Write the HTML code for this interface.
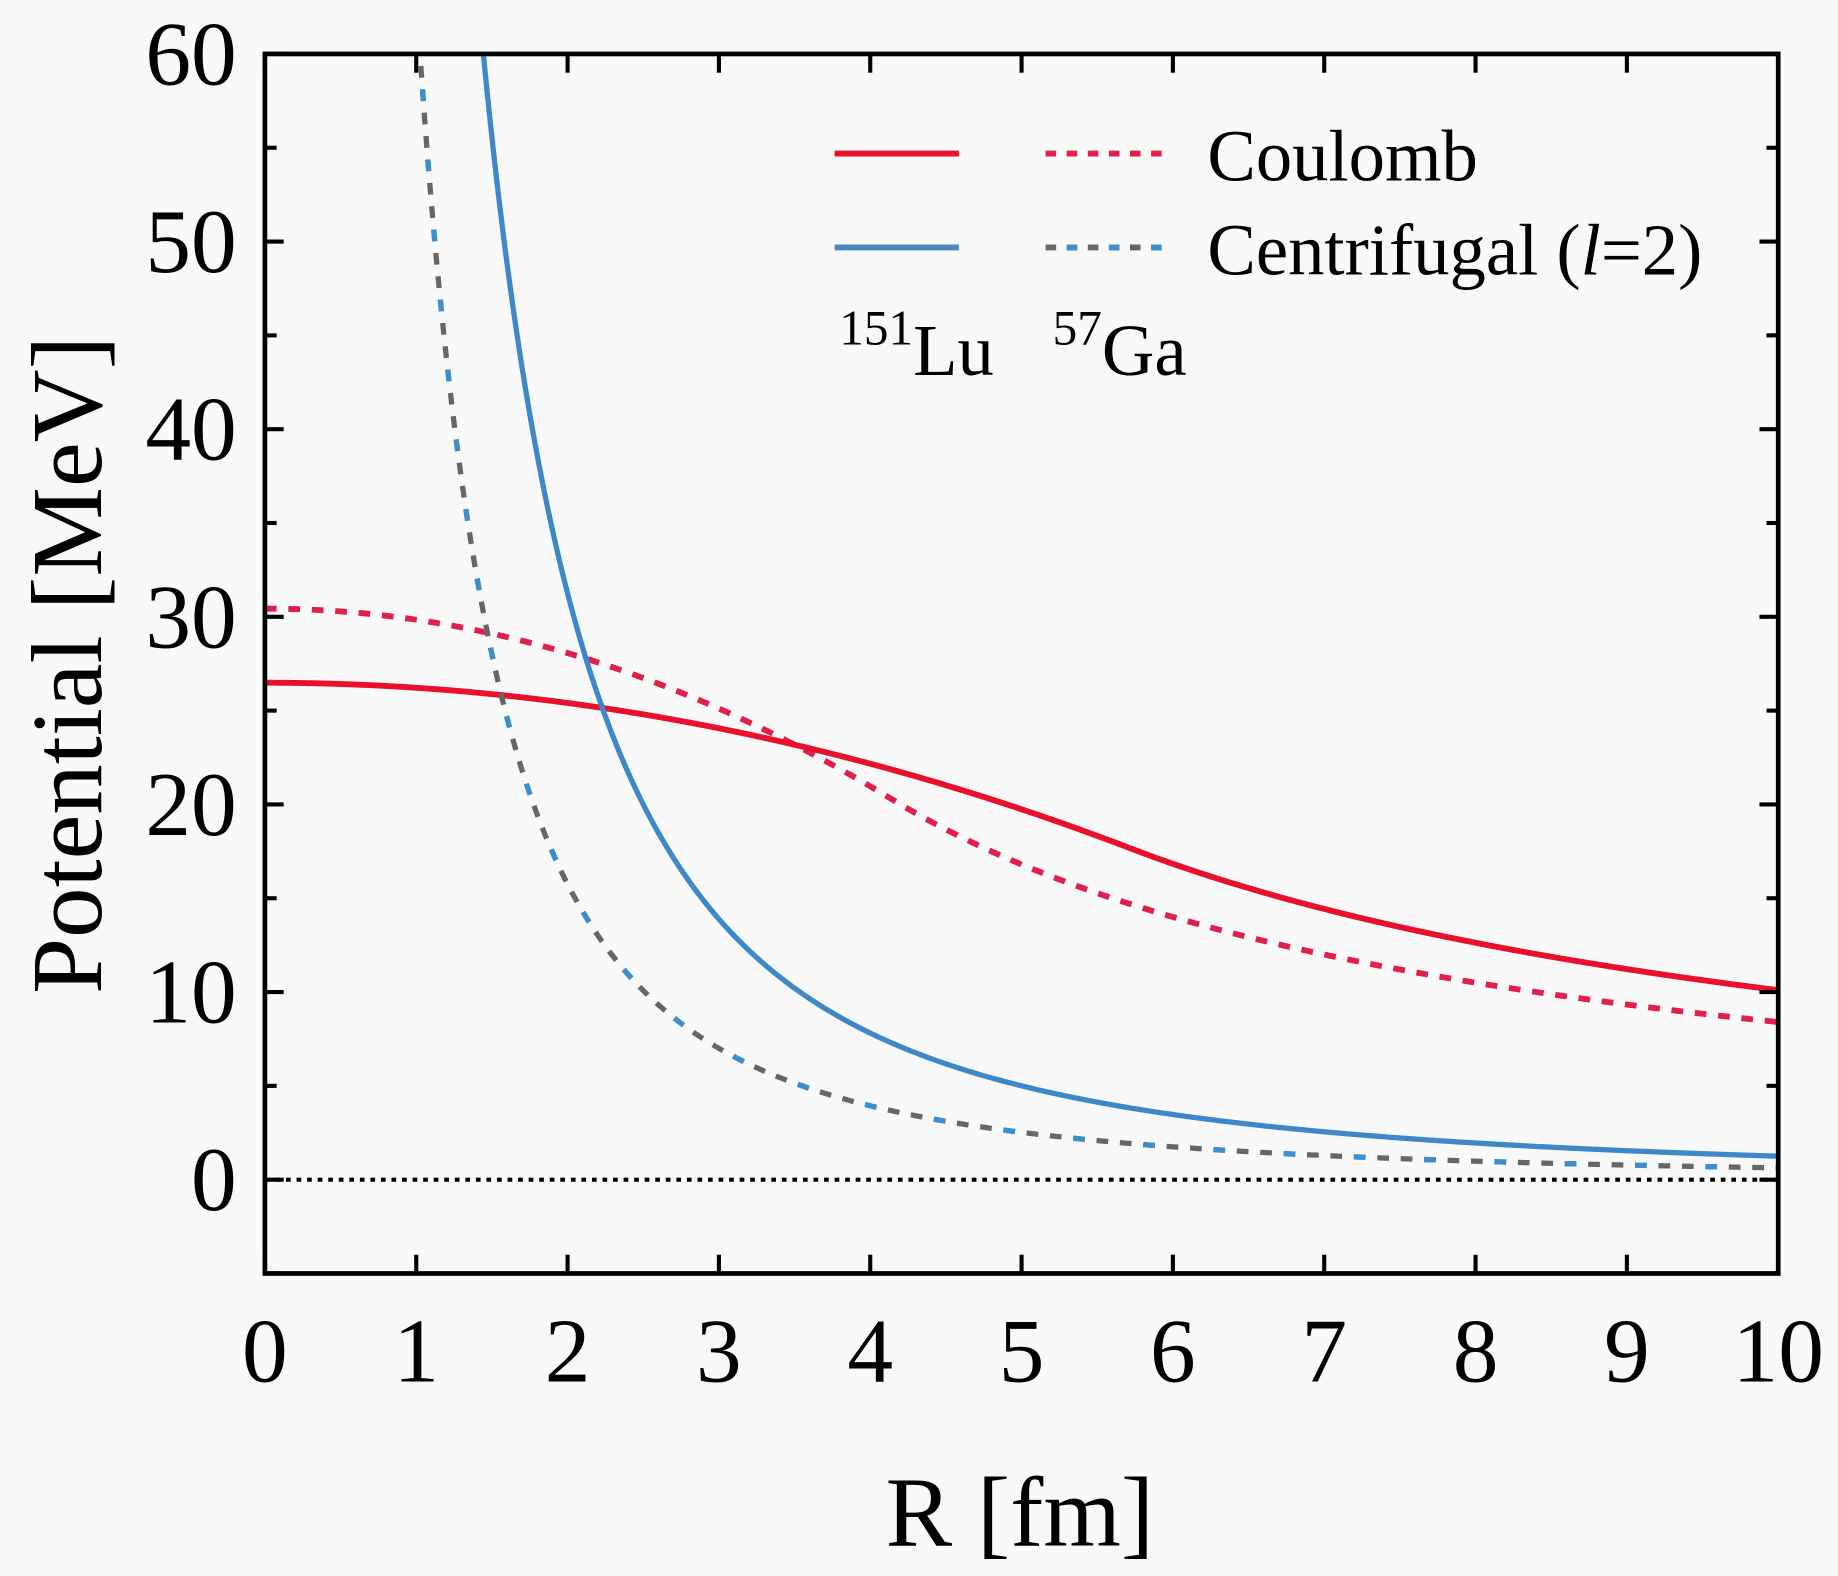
<!DOCTYPE html>
<html><head><meta charset="utf-8"><style>
html,body{margin:0;padding:0;background:#f9f9f9;}
svg{display:block;}
text{font-family:"Liberation Serif",serif;fill:#000;}
</style></head><body>
<svg id="s" width="1838" height="1576" viewBox="0 0 1568 1344" preserveAspectRatio="none" xmlns="http://www.w3.org/2000/svg">
<rect width="1568" height="1344" fill="#f9f9f9"/>
<defs><clipPath id="c"><rect x="226" y="46" width="1291" height="1040"/></clipPath></defs>
<g id="curves" clip-path="url(#c)"></g>
<line x1="226" y1="1006" x2="1517" y2="1006" stroke="#000" stroke-width="3.5" stroke-dasharray="4,5"/>
<g id="ticks" stroke="#000" stroke-width="3.5"></g>
<rect x="226" y="46" width="1291" height="1040" fill="none" stroke="#000" stroke-width="4"/>
<g id="labels" font-size="78"></g>
<text x="870" y="1318" font-size="85" text-anchor="middle">R [fm]</text>
<text transform="translate(86,567) rotate(-90)" font-size="86" text-anchor="middle">Potential [MeV]</text>
<line x1="712" y1="131" x2="818" y2="131" stroke="#e8102a" stroke-width="5"/>
<line x1="892" y1="131" x2="998" y2="131" stroke="#e0204a" stroke-width="5" stroke-dasharray="9,9"/>
<line x1="712" y1="211" x2="818" y2="211" stroke="#4a86bf" stroke-width="5"/>
<line x1="892" y1="211" x2="998" y2="211" stroke="#666" stroke-width="5" stroke-dasharray="9,9"/>
<line x1="910" y1="211" x2="998" y2="211" stroke="#3a8fd0" stroke-width="5" stroke-dasharray="9,27"/>
<text x="1030" y="154" font-size="62">Coulomb</text>
<text x="1030" y="234" font-size="62">Centrifugal (<tspan font-style="italic">l</tspan>=2)</text>
<text x="716" y="320" font-size="62"><tspan font-size="42" dy="-26">151</tspan><tspan dy="26">Lu</tspan></text>
<text x="898" y="320" font-size="62"><tspan font-size="42" dy="-26">57</tspan><tspan dy="26">Ga</tspan></text>
</svg>
<script>
var X=function(r){return 226+r*129.1;},Y=function(v){return 1006-v*16;};
function path(f,r0,r1){var d='';for(var i=0;i<=600;i++){var r=r0+(r1-r0)*i/600;var v=f(r);d+=(i?'L':'M')+X(r).toFixed(2)+','+Y(v).toFixed(2);}return d;}
function cou(k,R){return function(r){return r>=R?k/r:k/(2*R)*(3-r*r/(R*R));};}
var g=document.getElementById('curves'),ns='http://www.w3.org/2000/svg';
function add(d,col,dash,w){var p=document.createElementNS(ns,'path');p.setAttribute('d',d);p.setAttribute('fill','none');p.setAttribute('stroke',col);p.setAttribute('stroke-width',w||5);if(dash)p.setAttribute('stroke-dasharray',dash);g.appendChild(p);}
add(path(cou(84,4.14),0,10),'#e0204a','10,10');
add(path(cou(101,5.72),0,10),'#e8102a');
add(path(function(r){return 63/(r*r);},0.98,10),'#666','10,10',4.5);
add(path(function(r){return 63/(r*r);},0.98,10),'#3a8fd0','10,50',4.5);
add(path(function(r){return 125/(r*r);},1.38,10),'#3d88c8',null,4.5);
var t=document.getElementById('ticks'),L=document.getElementById('labels');
function ln(a,b,c,d){var l=document.createElementNS(ns,'line');l.setAttribute('x1',a);l.setAttribute('y1',b);l.setAttribute('x2',c);l.setAttribute('y2',d);t.appendChild(l);}
function tx(x,y,s,anc){var e=document.createElementNS(ns,'text');e.setAttribute('x',x);e.setAttribute('y',y);e.setAttribute('text-anchor',anc);e.textContent=s;L.appendChild(e);}
for(var v=-5;v<=60;v+=5){var y=Y(v);var len=(v%10==0)?16:10;ln(226,y,226+len,y);ln(1517,y,1517-len,y);if(v%10==0&&v>=0)tx(202,y+26,''+v,'end');}
for(var r=0;r<=10;r++){var x=X(r);ln(x,1086,x,1070);ln(x,46,x,62);tx(x,1178,''+r,'middle');}
</script>
</body></html>
